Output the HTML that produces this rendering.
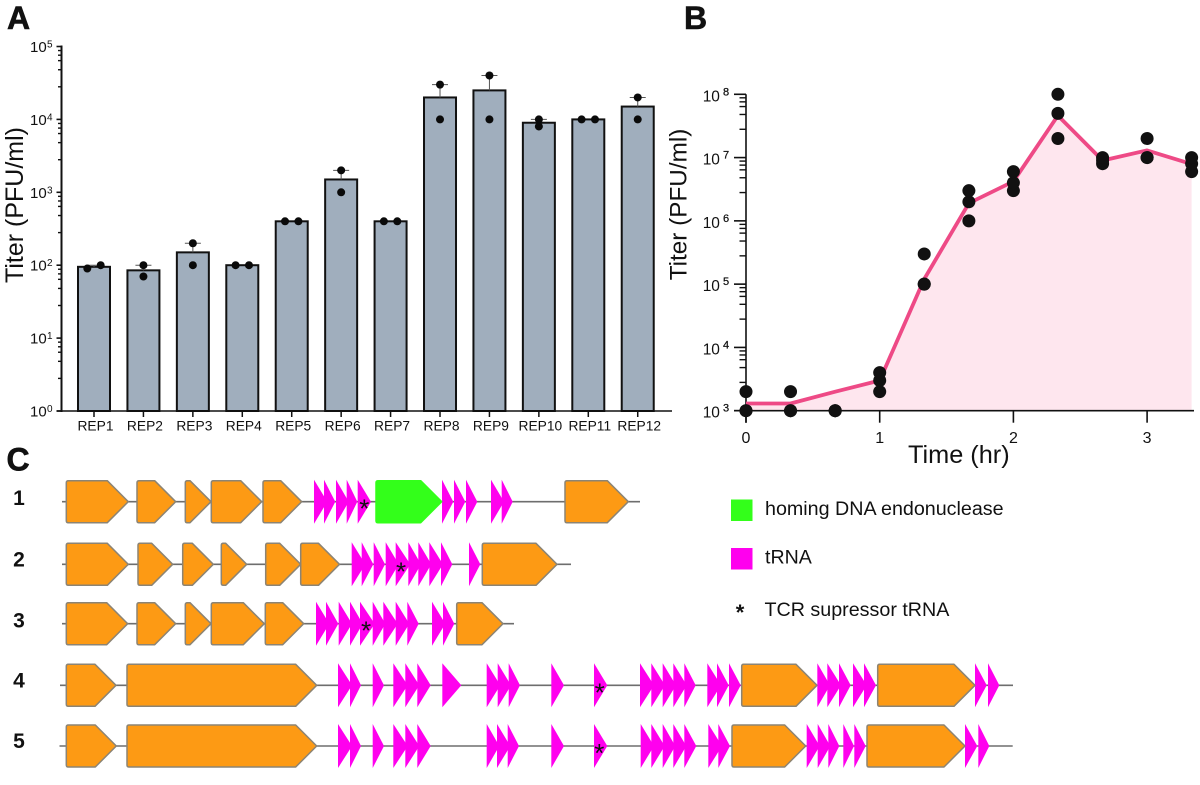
<!DOCTYPE html>
<html lang="en">
<head>
<meta charset="utf-8">
<title>Phage titer and gene maps</title>
<style>
html,body{margin:0;padding:0;background:#fff;}
svg{display:block;font-family:"Liberation Sans",Arial,sans-serif;}
</style>
</head>
<body>
<svg id="fig" xmlns="http://www.w3.org/2000/svg" width="1200" height="785" viewBox="0 0 1200 785">
  <rect width="1200" height="785" fill="#fff"/>
  <text x="7" y="29" font-size="32" font-weight="700" fill="#111" stroke="#111" stroke-width=".6">A</text>
  <text x="684" y="29" font-size="32" font-weight="700" fill="#111" stroke="#111" stroke-width=".6">B</text>
  <text x="6.5" y="470.5" font-size="32" font-weight="700" fill="#111" stroke="#111" stroke-width=".6">C</text>
  <g id="chartA"></g>
  <g id="chartB"></g>
  <g id="tracks"></g>
  <g>
    <rect x="731" y="499.5" width="21.5" height="21.5" fill="#33ff1a"/>
    <text x="765" y="515" font-size="19.7" fill="#111">homing DNA endonuclease</text>
    <rect x="731" y="548" width="21.5" height="21.5" fill="#ff00ee"/>
    <text x="765" y="563.5" font-size="19.6" fill="#111">tRNA</text>
    <text x="740" y="620" font-size="22" font-weight="700" text-anchor="middle" fill="#111">*</text>
    <text x="764.5" y="616" font-size="19.7" fill="#111">TCR supressor tRNA</text>
  </g>
</svg>
<script>
// ---------- Panel A data ----------
const replicateNames = ['REP1','REP2','REP3','REP4','REP5','REP6','REP7','REP8','REP9','REP10','REP11','REP12'];
const meanTiters = [95,85,150,100,400,1500,400,20000,25000,9000,10000,15000];
const lowTiters = [90,70,100,100,400,1000,400,10000,10000,8000,10000,10000];
const highTiters = [100,100,200,100,400,2000,400,30000,40000,10000,10000,20000];
const barExponents = [0,1,2,3,4,5];
// ---------- Panel B data ----------
const timeHours = [0,0.333,0.667,1,1.333,1.667,2,2.333,2.667,3,3.333];
const meanCurve = [1300,1300,2000,3000,120000,1900000,4200000,46000000,9000000,13000000,7900000];
const replicateOne = [1000,1000,1000,2000,100000,1000000,3000000,20000000,8000000,10000000,6000000];
const replicateTwo = [1000,1000,1000,3000,100000,2000000,4000000,50000000,9000000,10000000,8000000];
const replicateThree = [2000,2000,1000,4000,300000,3000000,6000000,100000000,10000000,20000000,10000000];
const curveExponents = [3,4,5,6,7,8];
const hourTicks = [0,1,2,3];
// Shared minor log tick multipliers
const minorMultipliers = [2.8,4.8,6.4,7.6,8.8];

// ---------- Panel C data: genomic spans per track ----------
const trackNames = ['1','2','3','4','5'];
const trackOneGenes = [[66.3,128.3],[137,175.7],[185.3,211],[211.3,261.7],[263,301.7],[565,628.3]];
const trackOneHoming = [[376,441.7]];
const trackOneTrna = [[314,325.3],[324,335.3],[336,346.7],[346.7,357.3],[357.7,371],[442,453.3],[454,465.3],[466,477.3],[491,502],[501.7,512.7]];
const trackTwoGenes = [[66.3,128.3],[138,172.7],[182.7,213.3],[221.3,246.7],[265.7,300.7],[300.7,339.5],[482.3,557]];
const trackTwoTrna = [[351.7,363.3],[361.7,373.3],[373.7,385],[385.7,396.7],[395.7,408.3],[408.3,419],[418.3,429.3],[429.3,441],[441,452.3],[469,480.3]];
const trackThreeGenes = [[66.3,127.7],[137,175.7],[185.3,211],[211.3,264.3],[265.3,303.7],[456.7,503]];
const trackThreeTrna = [[316,327.3],[326,338.3],[338.7,350],[350,360.7],[360,372.7],[372.7,383.3],[383.3,395.7],[395.7,407.3],[407.3,418.7],[432,443.3],[443,454.3]];
const trackFourGenes = [[66.3,116],[127,316.7],[741.7,817],[877.7,975]];
const trackFourTrna = [[338,350],[350,361],[372.7,384],[393.3,405.7],[405.3,417.3],[417.3,430.7],[442.3,461.3],[486.7,498.3],[497.7,509],[508.7,520],[551.3,564],[594,607.3],[640,652],[651.3,663],[662.7,674],[673.3,684.7],[684.3,695.7],[707.3,719],[717,728.7],[729,740.7],[817.3,828],[827.3,839],[839,850.7],[853,864.7],[864,876],[975,986.7],[988,999.3]];
const trackFiveGenes = [[66.3,116.3],[127,316.7],[732,805.7],[867,965]];
const trackFiveTrna = [[338,350],[350,361],[372.7,384],[393.3,405.7],[405.3,417.3],[417.3,430.7],[486.7,497.3],[497,508.3],[507.7,519],[551.3,564],[594,607.3],[640.7,652],[651.3,662.7],[662.7,673.3],[673.3,684.3],[684.3,696.3],[708.3,720],[718.3,730],[806.7,817.7],[817.7,828.3],[828.3,839.3],[843.3,854],[854.3,865.7],[965,977.3],[978.3,989.3]];
const trackMidlines = [501.7,564.3,623.7,685.3,746];
const trackSpans = [[62,640],[62,571],[62,514],[60,1013],[59.5,1012.7]];
const trackLabelBaselines = [505,566.7,627.7,687.7,748];
const suppressorMarks = [[364.3,0],[401,1],[366,2],[599.7,3],[599.3,4]];

const NS = 'http://www.w3.org/2000/svg';
function make(tag, attrs, parent, txt){
  const n = document.createElementNS(NS, tag);
  for (const k in attrs) n.setAttribute(k, attrs[k]);
  if (txt !== undefined) n.textContent = txt;
  parent.appendChild(n);
  return n;
}

// ===== Panel A =====
(function(){
  const g = document.getElementById('chartA');
  const bottom = 411, top = 46.5, axisX = 61.5;
  const y = v => bottom - Math.log10(v) * (bottom - top) / 5;
  const x = i => 94 + i * 49.43;
  let el;

  replicateNames.forEach((name, i) => {
    const t = y(meanTiters[i]);
    el = make('rect', {x: x(i) - 16, y: t, width: 32, height: bottom - t, fill: '#a0aebd', stroke: '#111', 'stroke-width': 2}, g);
    
    
    if (highTiters[i] > meanTiters[i]) {
      const e = y(highTiters[i]);
      el = make('path', {d: `M${x(i)} ${t}V${e}M${x(i) - 8} ${e}H${x(i) + 8}`, stroke: '#555', 'stroke-width': 1, fill: 'none'}, g);
      
      
    }
    const yLow = y(lowTiters[i]), yHigh = y(highTiters[i]);
    const spread = Math.abs(yLow - yHigh) < 5 ? 6.7 : 0;
    el = make('circle', {cx: x(i) - spread, cy: yLow, r: 4, fill: '#0a0a0a'}, g);
    
    
    el = make('circle', {cx: x(i) + spread, cy: yHigh, r: 4, fill: '#0a0a0a'}, g);
    
    
    el = make('line', {x1: x(i), x2: x(i), y1: bottom, y2: bottom + 6, stroke: '#111', 'stroke-width': 1.5}, g);
    
    
    el = make('text', {x: x(i) + 1.5, y: 430.7, 'font-size': 13.8, 'text-anchor': 'middle', fill: '#111'}, g, name);
    
    
  });

  el = make('line', {x1: axisX, x2: axisX, y1: top - 1, y2: bottom + 1, stroke: '#111', 'stroke-width': 2}, g);
  
  
  el = make('line', {x1: axisX - 5, x2: 672, y1: bottom, y2: bottom, stroke: '#111', 'stroke-width': 1.6}, g);
  
  

  barExponents.forEach(exp => {
    const v = Math.pow(10, exp);
    el = make('line', {x1: axisX - 5, x2: axisX, y1: y(v), y2: y(v), stroke: '#111', 'stroke-width': 1.6}, g);
    
    
    el = make('text', {x: 30, y: y(v) + 5.5, 'font-size': 15, fill: '#111'}, g, '10');
    
    
    el = make('text', {x: 47, y: y(v) + 1, 'font-size': 10, fill: '#111'}, g, String(exp));
    
    
    if (exp < 5) minorMultipliers.forEach(m => {
      const my = y(v * m);
      el = make('line', {x1: axisX - 3.5, x2: axisX, y1: my, y2: my, stroke: '#111', 'stroke-width': 1.4}, g);
      
      
    });
  });

  el = make('text', {transform: 'translate(23,205) rotate(-90)', 'font-size': 25, 'text-anchor': 'middle', fill: '#111'}, g, 'Titer (PFU/ml)');
  
  
})();

// ===== Panel B =====
(function(){
  const g = document.getElementById('chartB');
  const bottom = 410.7, top = 94.3, axisX = 746;
  const y = v => bottom - (Math.log10(v) - 3) * (bottom - top) / 5;
  const x = t => axisX + t * 133.7;
  let el;

  const curve = timeHours.map((t, i) => `${x(t).toFixed(1)} ${y(meanCurve[i]).toFixed(1)}`);
  const lastX = x(timeHours[timeHours.length - 1]).toFixed(1);
  el = make('path', {d: `M${axisX} ${bottom}L${curve.join('L')}L${lastX} ${bottom}Z`, fill: '#fee6ee'}, g);
  
  

  el = make('line', {x1: axisX, x2: axisX, y1: top, y2: bottom + 12, stroke: '#111', 'stroke-width': 1.6}, g);
  
  
  el = make('line', {x1: axisX - 12, x2: 1194, y1: bottom, y2: bottom, stroke: '#111', 'stroke-width': 1.6}, g);
  
  

  curveExponents.forEach(exp => {
    const v = Math.pow(10, exp);
    el = make('line', {x1: axisX - 12, x2: axisX, y1: y(v), y2: y(v), stroke: '#111', 'stroke-width': 1.6}, g);
    
    
    el = make('text', {x: 702.7, y: y(v) + 7, 'font-size': 15.5, fill: '#111'}, g, '10');
    
    
    el = make('text', {x: 723, y: y(v) + 1, 'font-size': 11, fill: '#111', stroke: '#111', 'stroke-width': .25}, g, String(exp));
    
    
    if (exp < 8) minorMultipliers.forEach(m => {
      const my = y(v * m);
      el = make('line', {x1: axisX - 6.5, x2: axisX, y1: my, y2: my, stroke: '#111', 'stroke-width': 1.4}, g);
      
      
    });
  });

  hourTicks.forEach(h => {
    el = make('line', {x1: x(h), x2: x(h), y1: bottom, y2: bottom + 12, stroke: '#111', 'stroke-width': 1.6}, g);
    
    
    el = make('text', {x: x(h), y: 443, 'font-size': 16, 'text-anchor': 'middle', fill: '#111'}, g, String(h));
    
    
  });

  el = make('polyline', {points: curve.map(p => p.replace(' ', ',')).join(' '), fill: 'none', stroke: '#ee4a86', 'stroke-width': 3.8, 'stroke-linejoin': 'round'}, g);
  
  

  [replicateOne, replicateTwo, replicateThree].forEach(series => {
    series.forEach((v, i) => {
      el = make('circle', {cx: x(timeHours[i]), cy: y(v), r: 6.5, fill: '#111'}, g);
      
      
    });
  });

  el = make('text', {transform: 'translate(686.7,204.5) rotate(-90)', 'font-size': 24.3, 'text-anchor': 'middle', fill: '#111'}, g, 'Titer (PFU/ml)');
  
  
  el = make('text', {x: 908, y: 463, 'font-size': 25.3, fill: '#111'}, g, 'Time (hr)');
  
  
})();

// ===== Panel C =====
(function(){
  const g = document.getElementById('tracks');
  const half = 21, head = 21, trnaHalf = 22;
  const geneSets = [trackOneGenes, trackTwoGenes, trackThreeGenes, trackFourGenes, trackFiveGenes];
  const trnaSets = [trackOneTrna, trackTwoTrna, trackThreeTrna, trackFourTrna, trackFiveTrna];
  let el;

  function gene(a, b, cy, fill, stroke){
    const h = Math.min(head, b - a - 2);
    const r = 2;
    const d = `M${a + r} ${cy - half}L${b - h} ${cy - half}L${b} ${cy}L${b - h} ${cy + half}L${a + r} ${cy + half}Q${a} ${cy + half} ${a} ${cy + half - r}L${a} ${cy - half + r}Q${a} ${cy - half} ${a + r} ${cy - half}Z`;
    return make('path', {d: d, fill: fill, stroke: stroke, 'stroke-width': 1.5, 'stroke-linejoin': 'round'}, g);
  }

  trackNames.forEach((label, i) => {
    const cy = trackMidlines[i];
    el = make('text', {x: 19, y: trackLabelBaselines[i], 'font-size': 21, 'font-weight': 700, 'text-anchor': 'middle', fill: '#111'}, g, label);
    
    
    el = make('line', {x1: trackSpans[i][0], x2: trackSpans[i][1], y1: cy, y2: cy, stroke: '#6e6e6e', 'stroke-width': 1.6}, g);
    
    
    trnaSets[i].forEach((s, j) => {
      const next = trnaSets[i][j + 1];
      const tip = next && next[0] <= s[1] ? s[1] + 2 : s[1];
      el = make('polygon', {points: `${s[0]},${cy - trnaHalf} ${tip},${cy} ${s[0]},${cy + trnaHalf}`, fill: '#ff00ee'}, g);
      
      
    });
    geneSets[i].forEach(s => {
      el = gene(s[0], s[1], cy, '#fd9a14', '#8c8474');
      
      
    });
  });

  trackOneHoming.forEach(s => {
    el = gene(s[0], s[1], trackMidlines[0], '#33ff1a', '#33ff1a');
    
    
  });

  suppressorMarks.forEach(m => {
    el = make('text', {x: m[0], y: trackMidlines[m[1]] + 16, 'font-size': 26, 'text-anchor': 'middle', fill: '#111'}, g, '*');
    
    
  });
})();
</script>
</body>
</html>
